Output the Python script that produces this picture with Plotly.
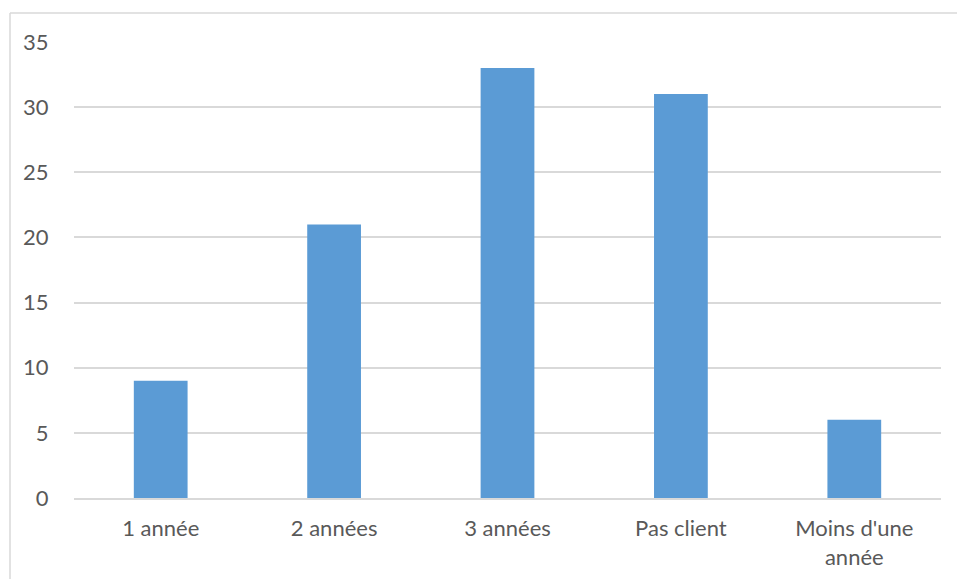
import plotly.graph_objects as go

categories = ["1 année", "2 années", "3 années", "Pas client", "Moins d'une<br>année"]
values = [9, 21, 33, 31, 6]
y_ticks = [0, 5, 10, 15, 20, 25, 30, 35]

W, H = 957, 579
L, R, T, B = 74, 16, 42, 81
pw = W - L - R
ph = H - T - B

fig = go.Figure(go.Bar(x=categories, y=values, marker=dict(color="#5B9BD5", line=dict(width=0)), width=0.31))

fig.update_layout(
    width=W, height=H,
    margin=dict(l=L, r=R, t=T, b=B, pad=0, autoexpand=False),
    paper_bgcolor="white", plot_bgcolor="white",
    font=dict(family="Lato, Open Sans, sans-serif", size=22, color="#595959"),
    showlegend=False,
    xaxis=dict(showgrid=False, showline=True, linecolor="#D9D9D9", linewidth=1.5,
               ticks="outside", ticklen=10, tickcolor="rgba(0,0,0,0)", tickangle=0,
               automargin=False),
    yaxis=dict(range=[0, 35], tickvals=y_ticks, showgrid=True, gridcolor="#D9D9D9", gridwidth=1.5,
               zeroline=False, showline=False, ticks="outside", ticklen=20,
               tickcolor="rgba(0,0,0,0)", automargin=False),
    shapes=[
        dict(type="line", xref="paper", yref="paper",
             x0=(10 - L) / pw, x1=(W + 20 - L) / pw,
             y0=(H - B - 13) / ph, y1=(H - B - 13) / ph,
             line=dict(color="#D9D9D9", width=1.5)),
        dict(type="line", xref="paper", yref="paper",
             x0=(10 - L) / pw, x1=(10 - L) / pw,
             y0=(H - B - 13) / ph, y1=-0.3,
             line=dict(color="#D9D9D9", width=1.5)),
    ],
)

fig.write_html("out.html")
